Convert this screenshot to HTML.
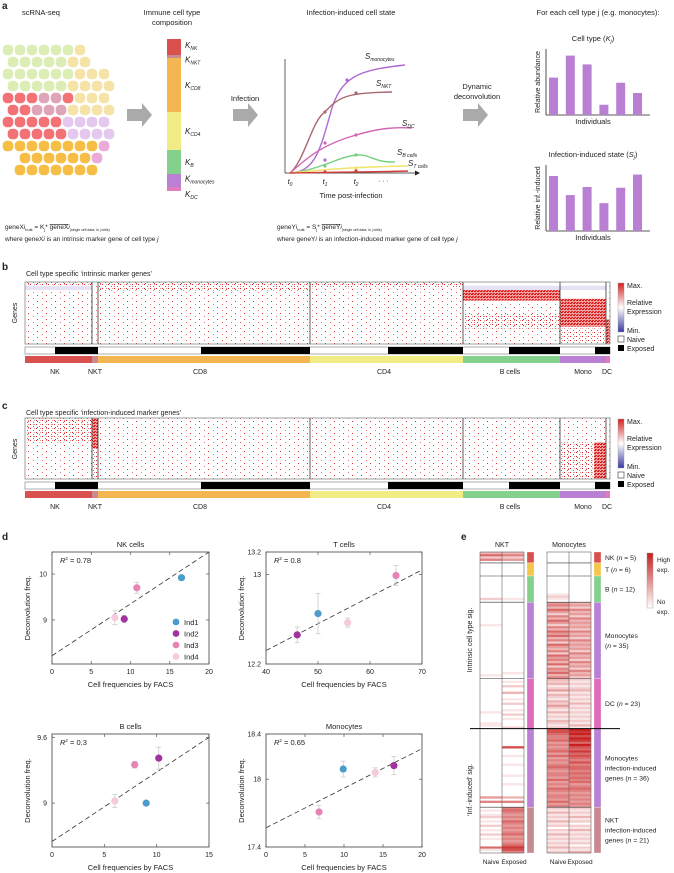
<!DOCTYPE html>
<html><head><meta charset="utf-8">
<style>
html,body{margin:0;padding:0;background:#fff;}
svg{display:block;font-family:"Liberation Sans",Arial,sans-serif;}
text{fill:#222;}
</style></head>
<body>
<svg id="fig" width="674" height="873" viewBox="0 0 674 873" xmlns="http://www.w3.org/2000/svg">
<defs>
  <pattern id="pSparse" width="9" height="6" patternUnits="userSpaceOnUse">
    <rect x="1" y="1" width="1" height="1" fill="#e03030"/><rect x="6" y="4" width="1" height="1" fill="#ee7070"/>
  </pattern>
  <pattern id="pMed" width="6" height="4" patternUnits="userSpaceOnUse">
    <rect x="0" y="0" width="1" height="1" fill="#d82020"/><rect x="3" y="2" width="1" height="1" fill="#e85050"/><rect x="4" y="0" width="1" height="1" fill="#f09090"/>
  </pattern>
  <pattern id="pDense" width="3" height="3" patternUnits="userSpaceOnUse">
    <rect width="3" height="3" fill="#f4a0a0"/><rect x="0" y="0" width="2" height="1" fill="#d41c1c"/><rect x="1" y="2" width="2" height="1" fill="#e02a2a"/>
  </pattern>
  <linearGradient id="gRel" x1="0" y1="0" x2="0" y2="1">
    <stop offset="0" stop-color="#d42020"/><stop offset="0.5" stop-color="#ffffff"/><stop offset="1" stop-color="#3a3aa0"/>
  </linearGradient>
  <linearGradient id="gHigh" x1="0" y1="0" x2="0" y2="1">
    <stop offset="0" stop-color="#c81e1e"/><stop offset="1" stop-color="#ffffff"/>
  </linearGradient>
</defs>

<g>
  <text x="2" y="9" font-size="10" font-weight="bold">a</text>
  <text x="41" y="15" font-size="7.5" text-anchor="middle">scRNA-seq</text>
  <text x="172" y="15" font-size="7.5" text-anchor="middle">Immune cell type</text>
  <text x="172" y="25" font-size="7.5" text-anchor="middle">composition</text>
  <text x="351" y="15" font-size="7.5" text-anchor="middle">Infection-induced cell state</text>
  <text x="598" y="15" font-size="7.5" text-anchor="middle">For each cell type j (e.g. monocytes):</text>
  <g id="cells"></g>
  <polygon points="127,109 142,109 142,103 152,115 142,127 142,121 127,121" fill="#aaa"/>
  <polygon points="233,109 248,109 248,103 258,115 248,127 248,121 233,121" fill="#aaa"/>
  <text x="245" y="101" font-size="7.5" text-anchor="middle">Infection</text>
  <polygon points="463,109 478,109 478,103 488,115 478,127 478,121 463,121" fill="#aaa"/>
  <text x="477" y="89" font-size="7.5" text-anchor="middle">Dynamic</text>
  <text x="477" y="99" font-size="7.5" text-anchor="middle">deconvolution</text>
  <g id="stack"></g>
  <g id="curves"></g>
  <g id="bars"></g>
  <text x="5" y="229" font-size="6.5">geneX<tspan font-style="italic">i</tspan><tspan font-size="4" dy="2">bulk</tspan><tspan dy="-2"> = K</tspan><tspan font-size="4" dy="2">j</tspan><tspan dy="-2">* </tspan><tspan text-decoration="overline">geneX<tspan font-style="italic">i</tspan></tspan><tspan font-size="3.5" dy="2">(single cell data; in j cells)</tspan></text>
  <text x="5" y="241" font-size="6.5">where geneX<tspan font-style="italic">i</tspan> is an intrinsic marker gene of cell type <tspan font-style="italic">j</tspan></text>
  <text x="277" y="229" font-size="6.5">geneY<tspan font-style="italic">i</tspan><tspan font-size="4" dy="2">bulk</tspan><tspan dy="-2"> = S</tspan><tspan font-size="4" dy="2">j</tspan><tspan dy="-2">* </tspan><tspan text-decoration="overline">geneY<tspan font-style="italic">i</tspan></tspan><tspan font-size="3.5" dy="2">(single cell data; in j cells)</tspan></text>
  <text x="277" y="241" font-size="6.5">where geneY<tspan font-style="italic">i</tspan> is an infection-induced marker gene of cell type <tspan font-style="italic">j</tspan></text>
</g>

<g id="panelB">
  <text x="2" y="270" font-size="10" font-weight="bold">b</text>
  <text x="26" y="276" font-size="7">Cell type specific ‘intrinsic marker genes’</text>
  <text transform="translate(17,313) rotate(-90)" font-size="7" text-anchor="middle">Genes</text>
</g>
<g id="panelC">
  <text x="2" y="409" font-size="10" font-weight="bold">c</text>
  <text x="26" y="415" font-size="7">Cell type specific ‘infection-induced marker genes’</text>
  <text transform="translate(17,449) rotate(-90)" font-size="7" text-anchor="middle">Genes</text>
</g>

<g id="panelD">
  <text x="2" y="540" font-size="10" font-weight="bold">d</text>
</g>

<g id="panelE">
  <text x="461" y="540" font-size="10" font-weight="bold">e</text>
  <text x="502" y="547" font-size="7" text-anchor="middle">NKT</text>
  <text x="569" y="547" font-size="7" text-anchor="middle">Monocytes</text>
  <text transform="translate(472,640) rotate(-90)" font-size="7" text-anchor="middle">Intrinsic cell type sig.</text>
  <text transform="translate(472,790) rotate(-90)" font-size="7" text-anchor="middle">‘Inf.-induced’ sig.</text>
  <rect x="647" y="553" width="6" height="55" fill="url(#gHigh)" stroke="#999" stroke-width="0.4"/>
  <text x="657" y="562" font-size="6.5">High</text>
  <text x="657" y="572" font-size="6.5">exp.</text>
  <text x="657" y="604" font-size="6.5">No</text>
  <text x="657" y="614" font-size="6.5">exp.</text>
  <text x="491" y="864" font-size="6.5" text-anchor="middle">Naive</text>
  <text x="514" y="864" font-size="6.5" text-anchor="middle">Exposed</text>
  <text x="558" y="864" font-size="6.5" text-anchor="middle">Naive</text>
  <text x="580" y="864" font-size="6.5" text-anchor="middle">Exposed</text>
</g>
</svg>

<script>
// ---------- data: panel d ----------
const indNames = ["Ind1","Ind2","Ind3","Ind4"];
const indColors = ["#4b9ccb","#a2339e","#e784b4","#f5cadd"];
const nkFacs = [16.5, 9.2, 10.8, 8.0];
const nkDecon = [9.92, 9.02, 9.70, 9.05];
const nkErr = [0.03, 0.08, 0.12, 0.15];
const nkFit = [8.22, 0.113];
const tFacs = [50, 46, 65, 55.7];
const tDecon = [12.65, 12.46, 12.99, 12.57];
const tErr = [0.18, 0.07, 0.09, 0.04];
const tFit = [11.36, 0.024];
const bFacs = [9.0, 10.2, 7.9, 6.0];
const bDecon = [9.00, 9.41, 9.35, 9.02];
const bErr = [0.01, 0.10, 0.03, 0.06];
const bFit = [8.65, 0.0633];
const monoFacs = [9.9, 16.4, 6.8, 14.0];
const monoDecon = [18.09, 18.12, 17.71, 18.06];
const monoErr = [0.07, 0.08, 0.06, 0.04];
const monoFit = [17.57, 0.035];

// ---------- data: panel e ----------
const eGroups = ["NK (n = 5)","T (n = 6)","B (n = 12)","Monocytes (n = 35)","DC (n = 23)","Monocytes infection-induced genes (n = 36)","NKT infection-induced genes (n = 21)"];
const eCounts = [5, 6, 12, 35, 23, 36, 21];
const eNktNaive = "36250"+"000000"+"000000000020"+"0000000000"+"1000000000"+"0000000000"+"00010"+"0000000000"+"0000010000"+"110"+"0000000000"+"0000000000"+"0000000000"+"040500"+"010120102010201000610";
const eNktExposed = "35240"+"000000"+"000000000010"+"0000000000"+"0000000000"+"0000000000"+"00100"+"01020030010200102010002"+"0000000070"+"0010001000"+"0100010000"+"030500"+"565454654545645456875";
const eMonoNaive = "00000"+"000000"+"000000001210"+"4536425364"+"2536463526"+"4352645362"+"54635"+"32312413213242131213212"+"7765564545"+"6464545654"+"5546454654"+"554645"+"213121312021312121312";
const eMonoExposed = "00000"+"000000"+"000000000000"+"3425342534"+"3425342534"+"3425342534"+"25342"+"21212312121312121212131"+"9897986976"+"8676575665"+"6565645654"+"545454"+"212131202131212120213";

// ---------- data: panel a ----------
const stackTypes = ["NK","NKT","CD8","CD4","B","monocytes","DC"];
const stackShares = [16, 3, 54, 38, 24, 13, 4];
const abundance = [5.1, 8.1, 6.9, 1.4, 4.4, 3.0];
const infInduced = [7.5, 4.9, 6.0, 3.8, 5.9, 7.7];

// ---------- data: panels b/c ----------
const hmTypes = ["NK","NKT","CD8","CD4","B cells","Mono","DC"];
const hmCells = [67, 6, 212, 153, 97, 46, 4];
const hmNaive = [30, 0, 103, 78, 46, 35, 0];

const NS = "http://www.w3.org/2000/svg";
function mk(parent, tag, attrs, txt){
  const el = document.createElementNS(NS, tag);
  for (const k in attrs) el.setAttribute(k, attrs[k]);
  if (txt !== undefined) el.textContent = txt;
  parent.appendChild(el);
  return el;
}
const typeColors = ["#d9514e","#c98a92","#f4b650","#f2ec86","#84d18e","#b980d4","#e07bbd"];

(function(){
  const g = document.getElementById('cells');
  const cols = [8,20,32,44,56,68,80,92,104];
  const rows = [50,62,74,86,98,110,122,134,146,158,170];
  function col(x,y){
    if (y>=138 && x<=96) return "#f6bb3c";
    if (x>=92 && y>=140 && y<=158) return "#eaa6d6";
    if (y<96 && x<70) return "#dcedb3";
    if (y<112 && x>=70) return "#f6e2a3";
    if (x>=62 && y>=108) return "#e4c6ee";
    if (x>=34 && x<62 && y>=90 && y<112) return "#dfa0b6";
    if (y>=90) return "#f26b6f";
    return "#dcedb3";
  }
  rows.forEach((y,ri)=>cols.forEach((x,ci)=>{
    const xx = x + (ri%2)*5;
    if (ri>=9 && (ci===0 || ci>=8)) return;
    if (ri<=1 && ci>=7) return;
    const c = mk(g,'rect',{x:xx-5,y:y-5,width:10,height:10,rx:4,fill:col(xx,y),stroke:col(xx,y),'stroke-width':0.6,opacity:0.95});
    
    
  }));
})();

(function(){
  const g = document.getElementById('stack');
  const total = stackShares.reduce((a,b)=>a+b,0);
  const y0 = 39, h = 152;
  let y = y0;
  const labY = [];
  stackShares.forEach((s,i)=>{
    const hh = s/total*h;
    const r = mk(g,'rect',{x:167,y:y,width:14,height:hh,fill:typeColors[i]});
    
    
    labY.push(y+hh/2);
    y += hh;
  });
  const adj = [labY[0]-2, labY[1]+3, labY[2], labY[3], labY[4], labY[5]-2, labY[6]+5];
  stackTypes.forEach((t,i)=>{
    const tx = mk(g,'text',{x:185,y:adj[i]+3,'font-size':8,'font-style':'italic'});
    tx.innerHTML = 'K<tspan font-size="5" dy="2">'+t+'</tspan>';
    
    
  });
})();

(function(){
  const g = document.getElementById('curves');
  mk(g,'line',{x1:285,y1:59,x2:285,y2:173,stroke:'#222','stroke-width':0.7});
  mk(g,'line',{x1:285,y1:173,x2:415,y2:173,stroke:'#222','stroke-width':0.7});
  mk(g,'polygon',{points:'415,170.5 420,173 415,175.5',fill:'#222'});
  const paths = [
    ['monocytes','#b16ad2','M290,173 C315,172 320,150 330,115 C340,75 360,70 405,65'],
    ['nkt','#a9676f','M290,173 C305,160 312,120 325,112 C340,95 350,93 392,92'],
    ['dc','#d264b4','M290,173 C305,160 320,145 356,135 C380,128 395,127 412,128'],
    ['b-cells','#74cf7e','M290,173 C320,170 340,156 357,155 C370,154 375,163 395,162'],
    ['t-cells','#f0e56a','M290,173 C320,170 350,167 408,166'],
    ['baseline','#d33a3a','M290,173 C330,172 380,172 408,171']
  ];
  paths.forEach(p=>{
    const e = mk(g,'path',{d:p[2],fill:'none',stroke:p[1],'stroke-width':1.4});
    
    
  });
  [[325,112,'#a9676f'],[356,93,'#a9676f'],[347,80,'#b16ad2'],[325,160,'#b16ad2'],[325,143,'#d264b4'],[356,135,'#d264b4'],[356,155,'#74cf7e'],[325,166,'#74cf7e'],[356,168,'#f0e56a'],[325,172,'#d33a3a'],[356,171,'#d33a3a']].forEach(d=>{
    mk(g,'circle',{cx:d[0],cy:d[1],r:1.6,fill:d[2]});
  });
  [[290,'0'],[325,'1'],[356,'2']].forEach(l=>{
    const t = mk(g,'text',{x:l[0],y:184,'font-size':7.5,'font-style':'italic','text-anchor':'middle'});
    t.innerHTML = 't<tspan font-size="5" dy="2">'+l[1]+'</tspan>';
  });
  mk(g,'text',{x:378,y:183,'font-size':7},'· · ·');
  mk(g,'text',{x:351,y:198,'font-size':7.5,'text-anchor':'middle'},'Time post-infection');
  [[365,59,'monocytes'],[376,86,'NKT'],[402,126,'DC'],[397,155,'B cells'],[408,166,'T cells']].forEach(s=>{
    const t = mk(g,'text',{x:s[0],y:s[1],'font-size':8,'font-style':'italic'});
    t.innerHTML = 'S<tspan font-size="5" dy="2">'+s[2]+'</tspan>';
  });
})();

(function(){
  const g = document.getElementById('bars');
  function chart(vals, top, bottom, title, ylab, name){
    mk(g,'line',{x1:546,y1:top,x2:546,y2:bottom,stroke:'#222','stroke-width':0.8});
    mk(g,'line',{x1:546,y1:bottom,x2:650,y2:bottom,stroke:'#222','stroke-width':0.8});
    const maxV = 9;
    vals.forEach((v,i)=>{
      const h = v/maxV*(bottom-top);
      const r = mk(g,'rect',{x:549+i*16.8,y:bottom-h,width:9,height:h,fill:'#b97fd3'});
      
      
    });
    const t = mk(g,'text',{x:593,y:top-8,'font-size':7.5,'text-anchor':'middle'});
    t.innerHTML = title;
    mk(g,'text',{x:593,y:bottom+9,'font-size':7.5,'text-anchor':'middle'},'Individuals');
    mk(g,'text',{transform:'translate(540,'+((top+bottom)/2)+') rotate(-90)','font-size':7,'text-anchor':'middle'},ylab);
  }
  chart(abundance, 49, 115, 'Cell type (<tspan font-style="italic">K</tspan><tspan font-size="5" dy="2" font-style="italic">j</tspan><tspan dy="-2">)</tspan>', 'Relative abundance', 'abundance');
  chart(infInduced, 165, 231, 'Infection-induced state (<tspan font-style="italic">S</tspan><tspan font-size="5" dy="2" font-style="italic">j</tspan><tspan dy="-2">)</tspan>', 'Relative inf.-induced', 'inf-induced');
})();

function heatmap(gid, top, bottom, regions, legTop){
  const g = document.getElementById(gid);
  const x0 = 25, x1 = 610;
  const total = hmCells.reduce((a,b)=>a+b,0);
  const scale = (x1-x0)/total;
  const bounds = [x0];
  hmCells.forEach(c=>bounds.push(bounds[bounds.length-1]+c*scale));
  mk(g,'rect',{x:x0,y:top,width:x1-x0,height:bottom-top,fill:'#fff'});
  regions.forEach(r=>{
    const a = bounds[r[0]] + (r[4]||0)*(bounds[r[0]+1]-bounds[r[0]]);
    const b = bounds[r[0]] + (r[5]===undefined?1:r[5])*(bounds[r[0]+1]-bounds[r[0]]);
    const e = mk(g,'rect',{x:a,y:top+r[1]*(bottom-top),width:b-a,height:(r[2]-r[1])*(bottom-top),fill:r[3]});
    
    
  });
  mk(g,'rect',{x:x0,y:top,width:x1-x0,height:bottom-top,fill:'none',stroke:'#888','stroke-width':0.8});
  for (let i=1;i<bounds.length-1;i++){
    mk(g,'line',{x1:bounds[i],y1:top,x2:bounds[i],y2:bottom,stroke:'#333','stroke-width':0.8});
  }
  const nb = mk(g,'rect',{x:x0,y:bottom+3,width:x1-x0,height:7,fill:'#fff',stroke:'#777','stroke-width':0.6});
  
  
  hmCells.forEach((c,i)=>{
    const xs = bounds[i] + hmNaive[i]*scale;
    const w = bounds[i+1]-xs;
    if (w>0){
      const e = mk(g,'rect',{x:xs,y:bottom+3,width:w,height:7,fill:'#000'});
      
      
    }
    const cb = mk(g,'rect',{x:bounds[i],y:bottom+12,width:bounds[i+1]-bounds[i],height:7,fill:typeColors[i]});
    
    
  });
  const labX = [55, 95, 200, 384, 510, 583, 607];
  hmTypes.forEach((t,i)=>{
    const tx = mk(g,'text',{x:labX[i],y:bottom+30,'font-size':7,'text-anchor':'middle'},t);
    
    
  });
  mk(g,'rect',{x:618,y:legTop,width:6,height:49,fill:'url(#gRel)',stroke:'#999','stroke-width':0.4});
  mk(g,'text',{x:627,y:legTop+5,'font-size':7},'Max.');
  mk(g,'text',{x:627,y:legTop+22,'font-size':7},'Relative');
  mk(g,'text',{x:627,y:legTop+31,'font-size':7},'Expression');
  mk(g,'text',{x:627,y:legTop+50,'font-size':7},'Min.');
  mk(g,'rect',{x:618,y:legTop+53,width:6,height:6,fill:'#fff',stroke:'#333','stroke-width':0.6});
  mk(g,'text',{x:627,y:legTop+59,'font-size':7},'Naive');
  mk(g,'rect',{x:618,y:legTop+62,width:6,height:6,fill:'#000'});
  mk(g,'text',{x:627,y:legTop+68,'font-size':7},'Exposed');
}
heatmap('panelB', 282, 344, [
  [0,0,1,'url(#pSparse)'],[0,0,0.08,'url(#pMed)'],[0,0.06,0.13,'#e6e2f4'],
  [1,0,1,'url(#pSparse)'],
  [2,0,1,'url(#pSparse)'],[2,0,0.14,'url(#pMed)'],[2,0.4,0.75,'url(#pSparse)'],
  [3,0,1,'url(#pSparse)'],[3,0,0.1,'url(#pMed)'],
  [4,0.06,0.13,'#e6e2f4'],[4,0.13,0.3,'url(#pDense)'],[4,0.35,1,'url(#pSparse)'],[4,0.5,0.75,'url(#pMed)'],
  [5,0.06,0.13,'#e6e2f4'],[5,0.27,0.72,'url(#pDense)'],[5,0.75,1,'url(#pMed)'],
  [6,0,1,'url(#pSparse)'],[6,0.6,1,'url(#pDense)']
], 283);
heatmap('panelC', 418, 479, [
  [0,0,1,'url(#pSparse)'],[0,0,0.4,'url(#pMed)'],
  [1,0,0.5,'url(#pDense)'],[1,0.5,1,'url(#pMed)'],
  [2,0,1,'url(#pSparse)'],[2,0.05,0.35,'url(#pSparse)'],
  [3,0,1,'url(#pSparse)'],
  [4,0,1,'url(#pSparse)'],
  [5,0,1,'url(#pSparse)'],[5,0.4,1,'url(#pMed)'],[5,0.4,1,'url(#pDense)',0.74,1],
  [6,0,1,'url(#pSparse)']
], 419);

(function(){
  const g = document.getElementById('panelD');
  function plot(cfg, facs, decon, err, fit){
    const sx = v => cfg.x0 + (v-cfg.xd[0])/(cfg.xd[1]-cfg.xd[0])*(cfg.x1-cfg.x0);
    const sy = v => cfg.y1 - (v-cfg.yd[0])/(cfg.yd[1]-cfg.yd[0])*(cfg.y1-cfg.y0);
    const pg = mk(g,'g',{});
    
    
    const cid = 'clip-'+cfg.id;
    const cp = mk(pg,'clipPath',{id:cid});
    mk(cp,'rect',{x:cfg.x0,y:cfg.y0,width:cfg.x1-cfg.x0,height:cfg.y1-cfg.y0});
    const fl = mk(pg,'line',{x1:sx(cfg.xd[0]),y1:sy(fit[0]+fit[1]*cfg.xd[0]),x2:sx(cfg.xd[1]),y2:sy(fit[0]+fit[1]*cfg.xd[1]),stroke:'#333','stroke-width':0.8,'stroke-dasharray':'5,3','clip-path':'url(#'+cid+')'});
    
    
    mk(pg,'rect',{x:cfg.x0,y:cfg.y0,width:cfg.x1-cfg.x0,height:cfg.y1-cfg.y0,fill:'none',stroke:'#555','stroke-width':0.9});
    cfg.xt.forEach(v=>{
      mk(pg,'line',{x1:sx(v),y1:cfg.y1,x2:sx(v),y2:cfg.y1-3,stroke:'#555','stroke-width':0.7});
      mk(pg,'line',{x1:sx(v),y1:cfg.y0,x2:sx(v),y2:cfg.y0+3,stroke:'#555','stroke-width':0.7});
      const t = mk(pg,'text',{x:sx(v),y:cfg.y1+10,'font-size':7,'text-anchor':'middle'},String(v));
      
      
    });
    cfg.yt.forEach(v=>{
      mk(pg,'line',{x1:cfg.x0,y1:sy(v),x2:cfg.x0+3,y2:sy(v),stroke:'#555','stroke-width':0.7});
      mk(pg,'line',{x1:cfg.x1,y1:sy(v),x2:cfg.x1-3,y2:sy(v),stroke:'#555','stroke-width':0.7});
      const t = mk(pg,'text',{x:cfg.x0-5,y:sy(v)+2.5,'font-size':7,'text-anchor':'end'},String(v));
      
      
    });
    facs.forEach((f,i)=>{
      const cx = sx(f), cy = sy(decon[i]);
      const e1 = sy(decon[i]+err[i]), e2 = sy(decon[i]-err[i]);
      mk(pg,'line',{x1:cx,y1:e1,x2:cx,y2:e2,stroke:'#ccc','stroke-width':0.8});
      mk(pg,'line',{x1:cx-2.5,y1:e1,x2:cx+2.5,y2:e1,stroke:'#ccc','stroke-width':0.8});
      mk(pg,'line',{x1:cx-2.5,y1:e2,x2:cx+2.5,y2:e2,stroke:'#ccc','stroke-width':0.8});
      const p = mk(pg,'circle',{cx:cx,cy:cy,r:3.6,fill:indColors[i]});
      
      
    });
    const tt = mk(pg,'text',{x:(cfg.x0+cfg.x1)/2,y:cfg.y0-5,'font-size':7.5,'text-anchor':'middle'},cfg.title);
    
    
    const r2 = mk(pg,'text',{x:cfg.x0+8,y:cfg.y0+11,'font-size':7.5});
    r2.innerHTML = '<tspan font-style="italic">R</tspan><tspan font-size="4.5" dy="-3">2</tspan><tspan dy="3"> = '+cfg.r2+'</tspan>';
    const xl = mk(pg,'text',{x:(cfg.x0+cfg.x1)/2,y:cfg.y1+23,'font-size':7.5,'text-anchor':'middle'},'Cell frequencies by FACS');
    
    
    const yl = mk(pg,'text',{transform:'translate('+(cfg.x0-22)+','+((cfg.y0+cfg.y1)/2)+') rotate(-90)','font-size':7.5,'text-anchor':'middle'},'Deconvolution freq.');
    
    
  }
  plot({id:'nk',title:'NK cells',r2:'0.78',x0:52,x1:209,y0:552,y1:664,xd:[0,20],yd:[8.04,10.48],xt:[0,5,10,15,20],yt:[9,10]}, nkFacs, nkDecon, nkErr, nkFit);
  plot({id:'t',title:'T cells',r2:'0.8',x0:266,x1:422,y0:552,y1:664,xd:[40,70],yd:[12.2,13.2],xt:[40,50,60,70],yt:[12.2,13,13.2]}, tFacs, tDecon, tErr, tFit);
  plot({id:'b',title:'B cells',r2:'0.3',x0:52,x1:209,y0:734,y1:847,xd:[0,15],yd:[8.6,9.63],xt:[0,5,10,15],yt:[9,9.6]}, bFacs, bDecon, bErr, bFit);
  plot({id:'mono',title:'Monocytes',r2:'0.65',x0:266,x1:422,y0:734,y1:847,xd:[0,20],yd:[17.4,18.4],xt:[0,5,10,15,20],yt:[17.4,18,18.4]}, monoFacs, monoDecon, monoErr, monoFit);
  indNames.forEach((n,i)=>{
    const c = mk(g,'circle',{cx:176,cy:622+i*11.5,r:3.4,fill:indColors[i]});
    
    
    const t = mk(g,'text',{x:184,y:625+i*11.5,'font-size':7.5},n);
    
    
  });
})();

(function(){
  const g = document.getElementById('panelE');
  const top = 552, bottom = 853;
  const nRows = eCounts.reduce((a,b)=>a+b,0);
  const rh = (bottom-top)/nRows;
  const cols = [[480,eNktNaive,'nkt-naive'],[502,eNktExposed,'nkt-exposed'],[547,eMonoNaive,'mono-naive'],[569,eMonoExposed,'mono-exposed']];
  const cw = 22;
  function color(v){
    const t = v/9;
    const r = Math.round(255 - t*(255-200));
    const gg = Math.round(255 - t*(255-30));
    return 'rgb('+r+','+gg+','+gg+')';
  }
  cols.forEach(c=>{
    mk(g,'rect',{x:c[0],y:top,width:cw,height:bottom-top,fill:'#fff'});
    for (let i=0;i<nRows && i<c[1].length;i++){
      const v = +c[1][i];
      if (v>0){
        const r = mk(g,'rect',{x:c[0],y:top+i*rh,width:cw,height:rh+0.2,fill:color(v)});
        
        
      }
    }
  });
  [[480,524],[547,591]].forEach(p=>{
    mk(g,'rect',{x:p[0],y:top,width:p[1]-p[0],height:bottom-top,fill:'none',stroke:'#666','stroke-width':0.6});
    mk(g,'line',{x1:(p[0]+p[1])/2,y1:top,x2:(p[0]+p[1])/2,y2:bottom,stroke:'#666','stroke-width':0.6});
  });
  const stripColors = ["#d9514e","#f5c64c","#84d18e","#b980d4","#df6bbd","#b980d4","#c78a92"];
  let acc = 0;
  const labels = [["NK (n = 5)"],["T (n = 6)"],["B (n = 12)"],["Monocytes","(n = 35)"],["DC (n = 23)"],["Monocytes","infection-induced","genes (n = 36)"],["NKT","infection-induced","genes (n = 21)"]];
  eCounts.forEach((cnt,i)=>{
    const y = top + acc*rh, h = cnt*rh;
    [527,594].forEach(x=>{
      const s = mk(g,'rect',{x:x,y:y,width:7,height:h,fill:stripColors[i],stroke:'#fff','stroke-width':0.3});
      
      
    });
    if (acc>0 && i!==5){
      mk(g,'line',{x1:480,y1:y,x2:524,y2:y,stroke:'#333','stroke-width':0.6});
      mk(g,'line',{x1:547,y1:y,x2:591,y2:y,stroke:'#333','stroke-width':0.6});
    }
    const lines = labels[i];
    const cy = y + h/2 - (lines.length-1)*5 + 2.5;
    lines.forEach((l,k)=>{
      const t = mk(g,'text',{x:605,y:cy+k*10,'font-size':6.8});
      t.innerHTML = l.replace('n =','<tspan font-style="italic">n</tspan> =');
      
      
    });
    acc += cnt;
  });
  const yl = top + (5+6+12+35+23)*rh;
  const sep = mk(g,'line',{x1:470,y1:yl,x2:620,y2:yl,stroke:'#000','stroke-width':1});
  
  
})();
</script>
</body></html>
